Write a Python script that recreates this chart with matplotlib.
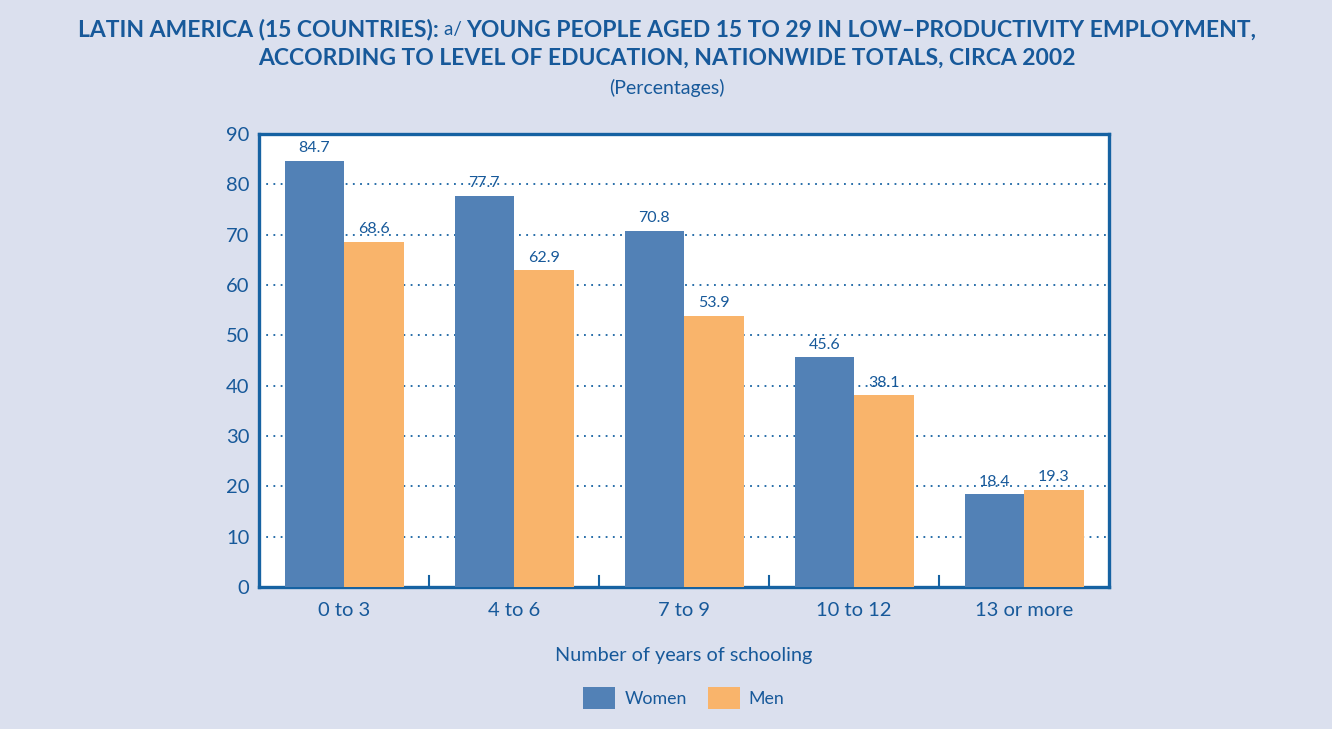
import matplotlib.pyplot as plt
from matplotlib.patches import Patch
import numpy as np

plt.rcParams['font.family'] = ['Lato', 'DejaVu Sans']

categories = ['0 to 3', '4 to 6', '7 to 9', '10 to 12', '13 or more']
women = [84.7, 77.7, 70.8, 45.6, 18.4]
men = [68.6, 62.9, 53.9, 38.1, 19.3]

BG = '#dbe0ee'
TXT = '#17599a'
SPINE = '#1662a2'
C_W = '#5281b6'
C_M = '#f9b46b'

fig = plt.figure(figsize=(13.32, 7.29), dpi=100, facecolor=BG)
ax = fig.add_axes([259 / 1332, 1 - 587 / 729, 850 / 1332, 453 / 729])
ax.set_facecolor('white')

x = np.arange(len(categories))
w = 0.35
bw = ax.bar(x - w / 2, women, w, color=C_W, zorder=3)
bm = ax.bar(x + w / 2, men, w, color=C_M, zorder=3)

for rect, v in list(zip(bw, women)) + list(zip(bm, men)):
    ax.text(rect.get_x() + rect.get_width() / 2, v + 1.1, '{0:.1f}'.format(v),
            ha='center', va='bottom', fontsize=11.5, color=TXT, zorder=4)

ax.set_xlim(-0.5, 4.5)
ax.set_ylim(0, 90)
ax.set_yticks(range(0, 91, 10))
for yv in range(10, 90, 10):
    ax.axhline(yv, color=SPINE, lw=1.3, ls=(0, (1, 3)), zorder=1)

ax.set_xticks(x)
ax.set_xticklabels(categories)
ax.tick_params(axis='x', length=0, pad=11, labelsize=14.5, labelcolor=TXT)
ax.tick_params(axis='y', length=0, pad=7, labelsize=14.5, labelcolor=TXT)
# short upward ticks between groups
for b in np.arange(0.5, 4.5, 1.0):
    ax.plot([b, b], [0, 2.2], color=SPINE, lw=1.5, zorder=2, clip_on=False)

for s in ax.spines.values():
    s.set_color(SPINE)
    s.set_linewidth(2.4)

ax.set_xlabel('Number of years of schooling', fontsize=14.3, color=TXT, labelpad=20)

# title
fig.canvas.draw()
renderer = fig.canvas.get_renderer()
parts = [('LATIN AMERICA (15 COUNTRIES): ', 'bold', 16.5),
         ('a/ ', 'normal', 13.5),
         ('YOUNG PEOPLE AGED 15 TO 29 IN LOW\u2013PRODUCTIVITY EMPLOYMENT,', 'bold', 16.5)]
texts = []
for s, wt, fs in parts:
    t = fig.text(0, 1 - 30 / 729, s, fontsize=fs, fontweight=wt, color=TXT,
                 ha='left', va='center')
    texts.append(t)
widths = [t.get_window_extent(renderer).width for t in texts]
total = sum(widths)
x0 = 667 - total / 2
for t, wd in zip(texts, widths):
    t.set_x(x0 / 1332)
    x0 += wd
fig.text(667 / 1332, 1 - 58 / 729,
         'ACCORDING TO LEVEL OF EDUCATION, NATIONWIDE TOTALS, CIRCA 2002',
         fontsize=16.5, fontweight='bold', color=TXT, ha='center', va='center')
fig.text(667 / 1332, 1 - 88 / 729, '(Percentages)', fontsize=14,
         color=TXT, ha='center', va='center')

handles = [Patch(facecolor=C_W, label='Women'), Patch(facecolor=C_M, label='Men')]
fig.legend(handles=handles, loc='center', bbox_to_anchor=(684 / 1332, 1 - 698 / 729),
           ncol=2, frameon=False, fontsize=12.8, labelcolor=TXT,
           handlelength=1.8, handleheight=1.45, columnspacing=1.2, handletextpad=0.5)

fig.savefig('out.png', dpi=100, facecolor=BG)
